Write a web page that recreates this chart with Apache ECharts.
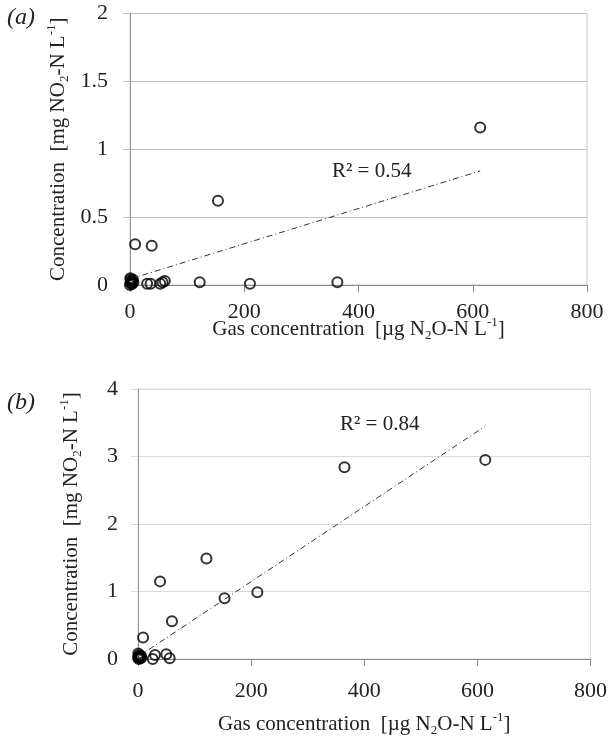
<!DOCTYPE html>
<html>
<head>
<meta charset="utf-8">
<script src="https://cdn.jsdelivr.net/npm/echarts@6/dist/echarts.min.js"></script>
<style>
  html, body { margin: 0; padding: 0; background: #fff; }
  #main { width: 610px; height: 738px; }
</style>
</head>
<body>
<div id="main"></div>
<script>
// panel (a): NO2 vs N2O
const gasA = [0, 0.5, 1, 1.5, 2, 3, 4, 5, 6, 9, 30, 36, 38, 53, 57, 61, 122, 154, 210, 363, 613];
const no2A = [0.00, 0.05, 0.02, 0.04, 0.01, 0.03, 0.01, 0.04, 0.02, 0.30, 0.01, 0.01, 0.29, 0.01, 0.02, 0.03, 0.02, 0.62, 0.01, 0.02, 1.16];
// panel (b)
const gasB = [0, 0.5, 1, 1.5, 2, 3, 4, 5, 6, 9, 26, 30, 39, 50, 56, 60, 121, 153, 211, 365, 614];
const no2B = [0.02, 0.08, 0.04, 0.00, 0.06, 0.03, 0.01, 0.05, 0.02, 0.32, 0.00, 0.06, 1.15, 0.07, 0.01, 0.56, 1.49, 0.90, 0.99, 2.84, 2.95];
// trendlines (end points)
const trendAx = [0, 613];
const trendAy = [0.044, 0.84];
const trendBx = [0, 614];
const trendBy = [0.033, 3.45];
// axis ticks
const xTicks = [0, 200, 400, 600, 800];
const yTicksA = [0, 0.5, 1, 1.5, 2];
const yTicksB = [0, 1, 2, 3, 4];

const FONT = '"Liberation Serif", "DejaVu Serif", serif';
const pairs = (xs, ys) => xs.map((x, i) => [x, ys[i]]);

const richSubSup = {
    sub: { fontFamily: FONT, fontSize: 13, lineHeight: 13, verticalAlign: 'bottom', color: '#222' },
    sup: { fontFamily: FONT, fontSize: 13, lineHeight: 13, verticalAlign: 'top', color: '#222' }
};
const xName = 'Gas concentration  [µg N{sub|2}O-N L{sup|-1}]';
const yName = 'Concentration  [mg NO{sub|2}-N L{sup|-1}]';

const xAxisOf = (gi, ticks, gap, labelMargin) => ({
    gridIndex: gi,
    type: 'value',
    min: ticks[0],
    max: ticks[ticks.length - 1],
    interval: ticks[1] - ticks[0],
    axisLine: { show: true, lineStyle: { color: '#888', width: 1 } },
    axisTick: { show: true, length: 7, lineStyle: { color: '#888' } },
    splitLine: { show: false },
    axisLabel: { fontFamily: FONT, fontSize: 22, color: '#222', margin: labelMargin },
    name: xName,
    nameLocation: 'middle',
    nameGap: gap,
    nameMoveOverlap: false,
    nameTextStyle: { fontFamily: FONT, fontSize: 21, color: '#222', lineHeight: 26, rich: richSubSup }
});

const yAxisOf = (gi, ticks, gridColor, gap, labelMargin) => ({
    gridIndex: gi,
    type: 'value',
    min: ticks[0],
    max: ticks[ticks.length - 1],
    interval: ticks[1] - ticks[0],
    axisLine: { show: true, lineStyle: { color: '#999', width: 1 } },
    axisTick: { show: true, length: 7, lineStyle: { color: gridColor } },
    splitLine: { show: true, lineStyle: { color: gridColor, width: 1 } },
    axisLabel: { fontFamily: FONT, fontSize: 22, color: '#222', margin: labelMargin },
    name: yName,
    nameLocation: 'middle',
    nameGap: gap,
    nameRotate: 90,
    nameMoveOverlap: false,
    nameTextStyle: { fontFamily: FONT, fontSize: 21, color: '#222', lineHeight: 26, rich: richSubSup }
});

const pointSeries = (idx, data) => ({
    type: 'scatter',
    xAxisIndex: idx,
    yAxisIndex: idx,
    data: data,
    symbol: 'circle',
    symbolSize: 10,
    itemStyle: { color: 'rgba(0,0,0,0)', borderColor: '#000', borderWidth: 2 },
    z: 3
});

const trendSeries = (idx, data) => ({
    type: 'line',
    xAxisIndex: idx,
    yAxisIndex: idx,
    data: data,
    symbol: 'none',
    silent: true,
    lineStyle: { color: '#333', width: 1, type: [6, 3, 1, 3] },
    z: 2
});

const chart = echarts.init(document.getElementById('main'), null, { renderer: 'canvas' });
chart.setOption({
    animation: false,
    backgroundColor: '#fff',
    grid: [
        { left: 130, top: 13.5, width: 457, height: 271.5, show: true, borderColor: '#c8c8c8', borderWidth: 1 },
        { left: 138, top: 389, width: 456, height: 271, show: true, borderColor: '#d9d9d9', borderWidth: 1 }
    ],
    xAxis: [
        xAxisOf(0, xTicks, 31, 16),
        xAxisOf(1, xTicks, 52, 21)
    ],
    yAxis: [
        yAxisOf(0, yTicksA, '#c0c0c0', 59, 22),
        yAxisOf(1, yTicksB, '#d9d9d9', 54, 20)
    ],
    series: [
        trendSeries(0, pairs(trendAx, trendAy)),
        pointSeries(0, pairs(gasA, no2A)),
        trendSeries(1, pairs(trendBx, trendBy)),
        pointSeries(1, pairs(gasB, no2B))
    ],
    graphic: [
        { type: 'text', left: 7, top: 6, style: { text: '(a)', font: 'italic 24px ' + FONT, fill: '#222' } },
        { type: 'text', left: 7, top: 391, style: { text: '(b)', font: 'italic 24px ' + FONT, fill: '#222' } },
        { type: 'text', left: 332, top: 161, style: { text: 'R² = 0.54', font: '21px ' + FONT, fill: '#222' } },
        { type: 'text', left: 340, top: 414, style: { text: 'R² = 0.84', font: '21px ' + FONT, fill: '#222' } }
    ]
});
</script>
</body>
</html>
